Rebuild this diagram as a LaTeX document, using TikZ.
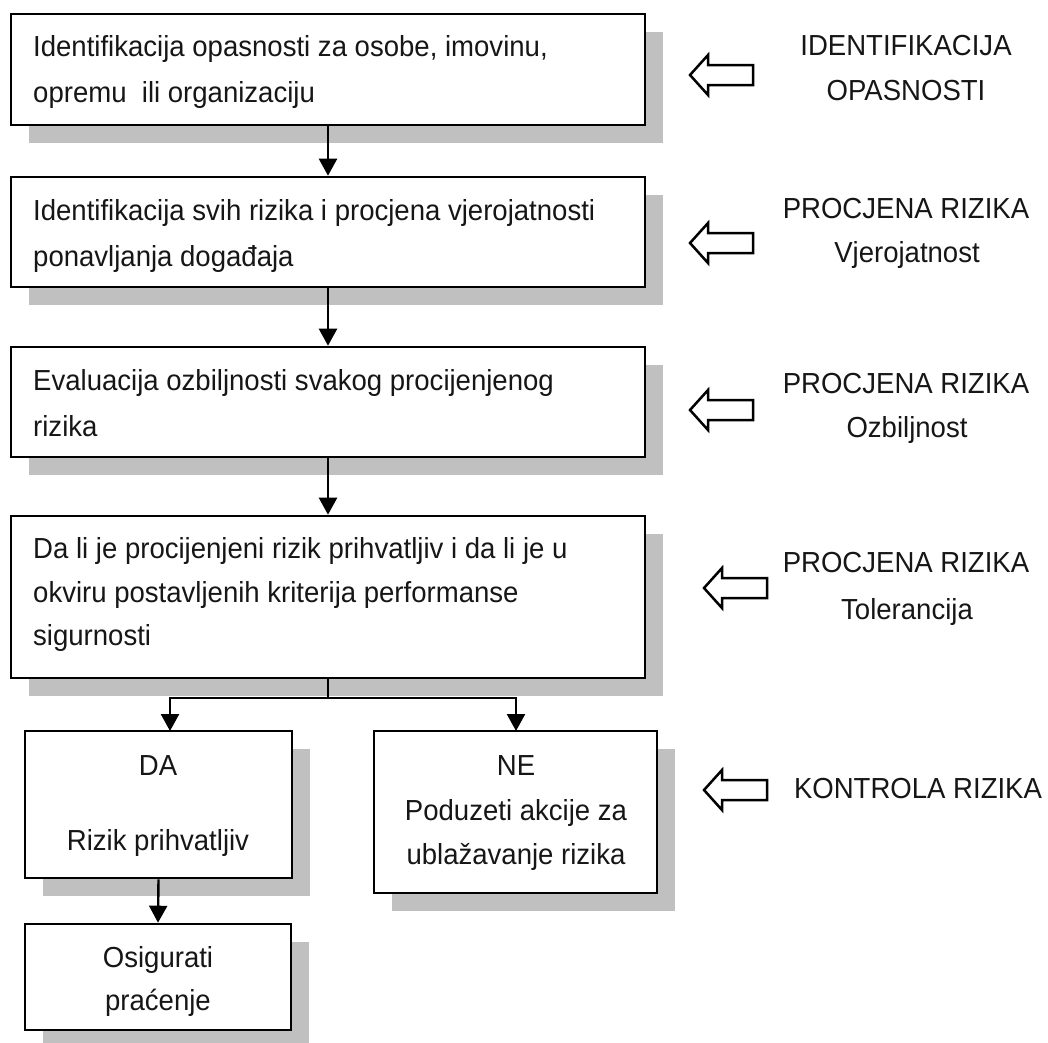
\documentclass[tikz,border=0pt]{standalone}
\usepackage{fontspec}
\setmainfont[FakeStretch=0.95]{Liberation Sans}
\usetikzlibrary{arrows.meta,shadows}
\definecolor{shd}{RGB}{192,192,192}
\definecolor{txt}{RGB}{22,22,22}
\newcommand\hollowArw[2]{%
  \draw[hollow] (#1,#2) -- ++(18,-20) -- ++(0,10) -- ++(45,0) -- ++(0,20) -- ++(-45,0) -- ++(0,10) -- cycle;}
\begin{document}
\begin{tikzpicture}[x=1pt,y=-1pt,
  box/.style={rectangle, draw=black, fill=white, line width=2.6pt, inner sep=0pt,
    general shadow={shadow xshift=18pt, shadow yshift=-18pt, fill=shd, draw=none, opacity=1}},
  ltext/.style={anchor=base west, inner sep=0pt, text=txt, font=\fontsize{29pt}{45pt}\selectfont},
  ctext/.style={anchor=base, inner sep=0pt, text=txt, font=\fontsize{29pt}{45pt}\selectfont},
  conn/.style={line width=2.4pt, -{Triangle[width=18pt,length=17pt]}},
  plainline/.style={line width=2.4pt},
  hollow/.style={draw=black, fill=white, line width=2.5pt, line join=miter}]
\useasboundingbox[fill=white] (0,0) rectangle (1048,1042);

% boxes
\node[box, minimum width=634pt, minimum height=111pt] (b1) at (328,69.5) {};
\node[box, minimum width=634pt, minimum height=110pt] (b2) at (328,232) {};
\node[box, minimum width=634pt, minimum height=110pt] (b3) at (328,402) {};
\node[box, minimum width=634pt, minimum height=162pt] (b4) at (328,597) {};
\node[box, minimum width=267pt, minimum height=147pt] (da) at (158.5,804.5) {};
\node[box, minimum width=283pt, minimum height=162pt] (ne) at (515.5,812) {};
\node[box, minimum width=266pt, minimum height=106pt] (os) at (158,977) {};

% box texts
\node[ltext] (t1a) at (33,56) {Identifikacija opasnosti za osobe, imovinu,};
\node[ltext] (t1b) at (33,102) {opremu\ \ ili organizaciju};
\node[ltext] (t2a) at (33,220) {Identifikacija svih rizika i procjena vjerojatnosti};
\node[ltext] (t2b) at (33,266) {ponavljanja događaja};
\node[ltext] (t3a) at (33,390) {Evaluacija ozbiljnosti svakog procijenjenog};
\node[ltext] (t3b) at (33,436) {rizika};
\node[ltext] (t4a) at (33,558) {Da li je procijenjeni rizik prihvatljiv i da li je u};
\node[ltext] (t4b) at (33,602) {okviru postavljenih kriterija performanse};
\node[ltext] (t4c) at (33,645) {sigurnosti};
\node[ctext] (tda1) at (158,775) {DA};
\node[ctext] (tda2) at (158,850) {Rizik prihvatljiv};
\node[ctext] (tne1) at (516,775) {NE};
\node[ctext] (tne2) at (516,820) {Poduzeti akcije za};
\node[ctext] (tne3) at (516,864) {ublažavanje rizika};
\node[ctext] (tos1) at (158,967) {Osigurati};
\node[ctext] (tos2) at (158,1010) {praćenje};

% connectors
\draw[conn] (b1.south) -- (b2.north);
\draw[conn] (b2.south) -- (b3.north);
\draw[conn] (b3.south) -- (b4.north);
\coordinate (j) at (328,698);
\coordinate (daIn) at (170,731);
\coordinate (neIn) at (516,731);
\draw[plainline] (b4.south) -- (j);
\draw[conn] (j) -| (daIn);
\draw[conn] (j) -| (neIn);
\draw[conn] (da.south) -- (os.north);

% hollow arrows
\hollowArw{690}{75}
\hollowArw{690}{243}
\hollowArw{690}{410}
\hollowArw{704}{588}
\hollowArw{704}{790}

% right labels
\node[ctext] (r1a) at (906,55) {IDENTIFIKACIJA};
\node[ctext] (r1b) at (906,100) {OPASNOSTI};
\node[ctext] (r2a) at (906,218) {PROCJENA RIZIKA};
\node[ctext] (r2b) at (907,262) {Vjerojatnost};
\node[ctext] (r3a) at (906,393) {PROCJENA RIZIKA};
\node[ctext] (r3b) at (907,437) {Ozbiljnost};
\node[ctext] (r4a) at (906,572) {PROCJENA RIZIKA};
\node[ctext] (r4b) at (907,619) {Tolerancija};
\node[ctext] (r5) at (918,798) {KONTROLA RIZIKA};
\end{tikzpicture}
\end{document}
